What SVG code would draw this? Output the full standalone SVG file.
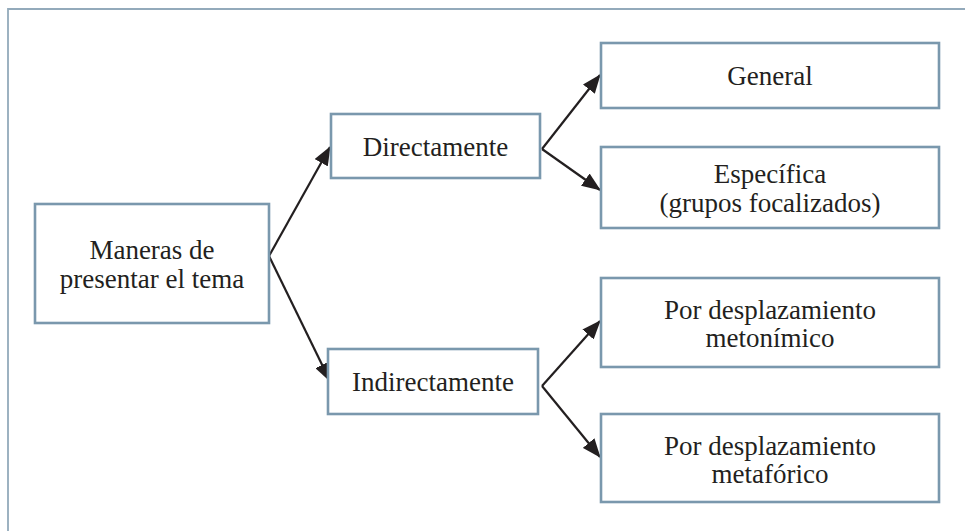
<svg xmlns="http://www.w3.org/2000/svg" width="965" height="531" viewBox="0 0 965 531">
<style>
.box{fill:#fff;stroke:#7a98ad;stroke-width:2.6}
.frame{fill:none;stroke:#93aabb;stroke-width:1.8}
.t{font-family:"Liberation Serif","Times New Roman",serif;font-size:27px;fill:#231f20;text-anchor:middle}
.c{fill:none;stroke:#231f20;stroke-width:2.2}
</style>
<defs>
<marker id="ah" markerWidth="19" markerHeight="15" refX="18" refY="7.5" orient="auto" markerUnits="userSpaceOnUse">
<path d="M0,0 L19,7.5 L0,15 Z" fill="#231f20"/>
</marker>
</defs>
<rect width="965" height="531" fill="#fff"/>
<path class="frame" d="M8,540 L8,9 L970,9"/>
<g id="connectors">
<line class="c" x1="269" y1="256" x2="330" y2="147" marker-end="url(#ah)"/>
<line class="c" x1="269" y1="256" x2="330" y2="381" marker-end="url(#ah)"/>
<line class="c" x1="542" y1="149" x2="600" y2="75" marker-end="url(#ah)"/>
<line class="c" x1="542" y1="149" x2="600" y2="190" marker-end="url(#ah)"/>
<line class="c" x1="542" y1="386" x2="600" y2="321" marker-end="url(#ah)"/>
<line class="c" x1="542" y1="386" x2="600" y2="457" marker-end="url(#ah)"/>
</g>
<g id="n-main">
<rect class="box" x="35" y="204" width="234" height="119"/>
<text class="t" x="152" y="258.5">Maneras de</text>
<text class="t" x="152" y="287.5">presentar el tema</text>
</g>
<g id="n-directamente">
<rect class="box" x="331" y="114" width="209" height="64"/>
<text class="t" x="435.5" y="156">Directamente</text>
</g>
<g id="n-indirectamente">
<rect class="box" x="328" y="349" width="210" height="65"/>
<text class="t" x="433" y="391">Indirectamente</text>
</g>
<g id="n-general">
<rect class="box" x="601" y="43" width="338" height="65"/>
<text class="t" x="770" y="85">General</text>
</g>
<g id="n-especifica">
<rect class="box" x="601" y="147" width="338" height="81"/>
<text class="t" x="770" y="182.5">Específica</text>
<text class="t" x="770" y="211.5">(grupos focalizados)</text>
</g>
<g id="n-metonimico">
<rect class="box" x="601" y="278" width="338" height="89"/>
<text class="t" x="770" y="318.5">Por desplazamiento</text>
<text class="t" x="770" y="347">metonímico</text>
</g>
<g id="n-metaforico">
<rect class="box" x="601" y="414" width="338" height="88"/>
<text class="t" x="770" y="454.5">Por desplazamiento</text>
<text class="t" x="770" y="483">metafórico</text>
</g>
</svg>
